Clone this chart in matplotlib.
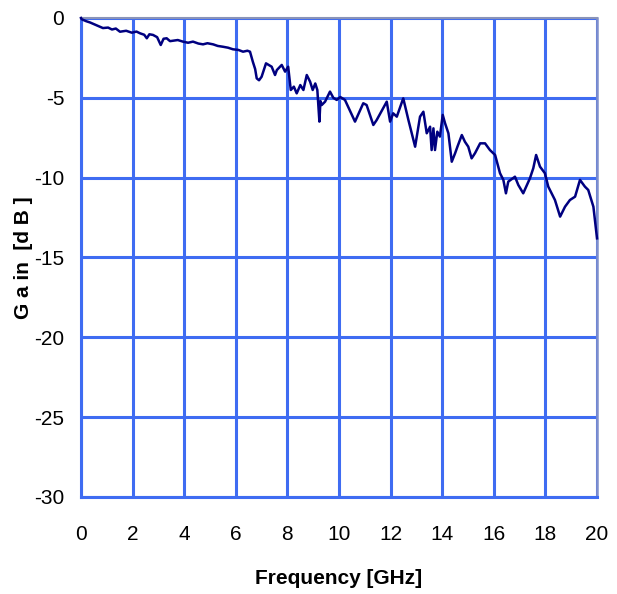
import matplotlib
matplotlib.use("Agg")
import matplotlib.pyplot as plt

freq_ghz = [0.00, 0.03, 0.20, 0.35, 0.55, 0.85, 1.05, 1.20, 1.35, 1.51, 1.75, 1.97, 2.15,
            2.29, 2.45, 2.55, 2.65, 2.79, 2.95, 3.09, 3.20, 3.32, 3.45, 3.57, 3.75, 3.95,
            4.15, 4.34, 4.55, 4.73, 4.90, 5.12, 5.30, 5.50, 5.70, 5.89, 6.10, 6.28, 6.45,
            6.55, 6.66, 6.75, 6.81, 6.90, 7.00, 7.17, 7.39, 7.52, 7.59, 7.78, 7.91, 8.03,
            8.13, 8.25, 8.36, 8.50, 8.62, 8.75, 8.88, 8.98, 9.08, 9.16, 9.24, 9.28, 9.33, 9.46,
            9.65, 9.78, 9.91, 10.05, 10.23,
            10.62, 10.94, 11.07, 11.33, 11.46, 11.85, 11.98, 12.10, 12.24, 12.49, 12.69,
            12.95, 13.14, 13.27, 13.40, 13.53, 13.59, 13.66, 13.72, 13.81, 13.91, 14.02,
            14.11, 14.24, 14.37, 14.50, 14.59, 14.76, 14.88, 15.01, 15.14, 15.27, 15.47,
            15.66, 15.85, 16.05, 16.24, 16.37, 16.47, 16.56, 16.82, 16.95, 17.14, 17.40,
            17.53, 17.64, 17.79, 17.98, 18.11, 18.37, 18.57, 18.76, 18.95, 19.15, 19.34,
            19.53, 19.66, 19.86, 20.00]
gain_db = [0.00, -0.08, -0.20, -0.28, -0.42, -0.63, -0.60, -0.72, -0.66, -0.86, -0.80, -0.92, -0.85,
           -0.96, -1.05, -1.27, -1.02, -1.06, -1.20, -1.69, -1.30, -1.27, -1.45, -1.42, -1.38, -1.48,
           -1.55, -1.48, -1.60, -1.65, -1.58, -1.65, -1.75, -1.80, -1.86, -1.96, -2.00, -2.11, -2.05,
           -2.11, -2.74, -3.20, -3.78, -3.90, -3.68, -2.84, -3.05, -3.57, -3.26, -2.94, -3.36, -3.05,
           -4.51, -4.30, -4.72, -4.20, -4.51, -3.57, -3.99, -4.51, -4.10, -4.51, -6.49, -5.20, -5.45, -5.24,
           -4.61, -5.00, -5.13, -4.95, -5.13,
           -6.49, -5.34, -5.45, -6.70, -6.39, -5.24, -6.49, -5.97, -6.18, -5.03, -6.39,
           -8.06, -6.18, -5.87, -7.22, -6.81, -8.27, -6.91, -8.27, -7.12, -7.43, -6.07,
           -6.59, -7.22, -9.00, -8.47, -8.06, -7.33, -7.75, -8.06, -8.79, -8.47, -7.85,
           -7.85, -8.27, -8.58, -9.72, -10.14, -10.98, -10.25, -9.94, -10.46, -10.98, -10.04,
           -9.41, -8.58, -9.31, -9.72, -10.56, -11.40, -12.44, -11.82, -11.40, -11.19, -10.14,
           -10.56, -10.77, -11.82, -13.80]

x_ticks = [0, 2, 4, 6, 8, 10, 12, 14, 16, 18, 20]
y_ticks = [0, -5, -10, -15, -20, -25, -30]

grid_color = "#3f6cf2"
line_color = "#000080"
tick_font = ["Liberation Sans", "DejaVu Sans"]

fig = plt.figure(figsize=(6.17, 5.94), dpi=100)
ax = fig.add_axes([0.1313, 0.1633, 0.8363, 0.8064])

ax.set_xlim(0, 20)
ax.set_ylim(-30, 0)
ax.set_xticks(x_ticks)
ax.set_yticks(y_ticks)
ax.set_xticklabels([str(t) for t in x_ticks], family=tick_font, fontsize=15)
ax.set_yticklabels([str(t) for t in y_ticks], family=tick_font, fontsize=15)
ax.tick_params(axis="both", length=0)
ax.tick_params(axis="x", pad=20)
ax.tick_params(axis="y", pad=12)

ax.grid(True, color=grid_color, linewidth=2.2, zorder=1)
ax.set_axisbelow(True)
for side in ["left", "bottom"]:
    ax.spines[side].set_color(grid_color)
    ax.spines[side].set_linewidth(2.2)
ax.spines["top"].set_color("#8a93b8")
ax.spines["top"].set_linewidth(1.5)
ax.spines["right"].set_color("#7f8fcc")
ax.spines["right"].set_linewidth(1.8)

ax.plot(freq_ghz, gain_db, color=line_color, linewidth=1.8, zorder=3, clip_on=False)

ax.set_xlabel("Frequency [GHz]", family=tick_font, fontsize=15, fontweight="bold", labelpad=18)
ax.set_ylabel("G a in  [d B ]", family=tick_font, fontsize=15, fontweight="bold", labelpad=1)

fig.savefig("out.png", dpi=100)
